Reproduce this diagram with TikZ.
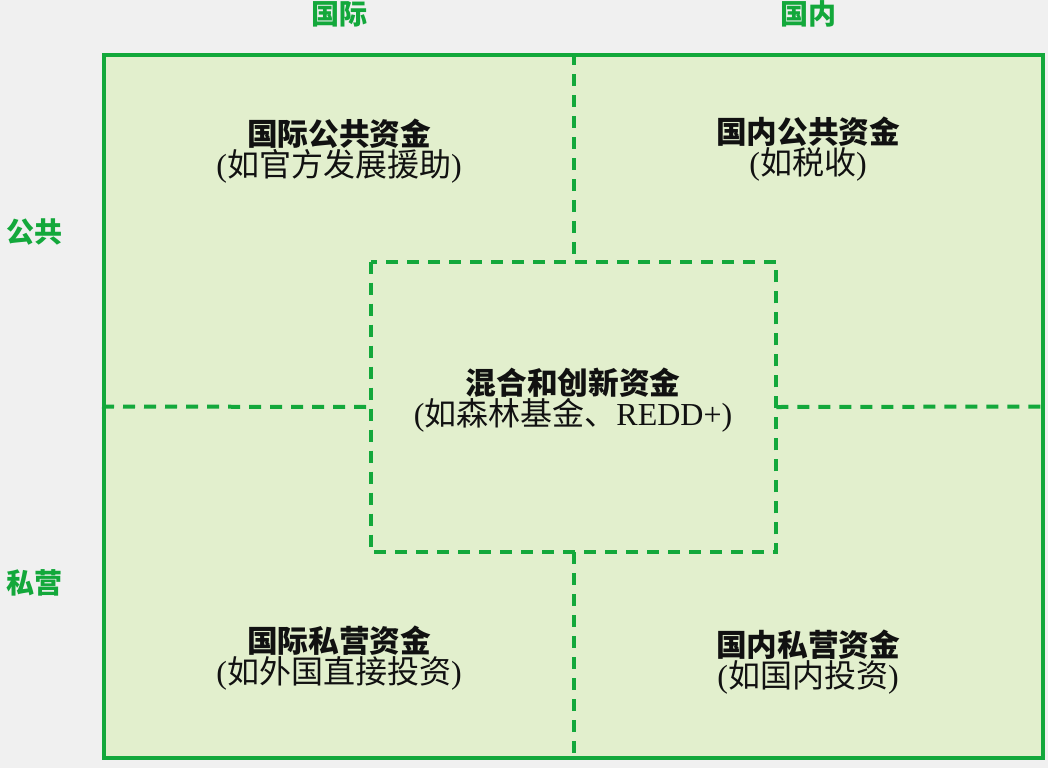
\documentclass[tikz,border=0pt]{standalone}
\usepackage{fontspec}
\newfontfamily\cjk{Noto Sans CJK SC}
\newfontfamily\ser{Liberation Serif}
\definecolor{bg}{HTML}{F0F0F0}
\definecolor{gr}{HTML}{13A83B}
\definecolor{panel}{HTML}{E2EFCD}
\definecolor{ink}{HTML}{111111}
\begin{document}
\begin{tikzpicture}[x=0.75pt,y=-0.75pt,
  axislabel/.style={text=gr,font=\cjk\bfseries\fontsize{21}{24}\selectfont,inner sep=0pt,anchor=center},
  celltext/.style={text=ink,align=center,inner sep=0pt,anchor=center},
  dashline/.style={draw=gr,line width=3pt,dash pattern=on 9pt off 6.75pt}]
\fill[bg] (0,0) rectangle (1048,768);
\useasboundingbox (0,0) rectangle (1048,768);
\node[draw=gr,fill=panel,line width=3pt,minimum width=939*0.75pt,minimum height=703*0.75pt,inner sep=0pt] (outer) at (573.5,406.5) {};
\node[minimum width=405*0.75pt,minimum height=290*0.75pt,inner sep=0pt] (inner) at (573.5,407) {};
\draw[dashline] (outer.north) -- (inner.north);
\draw[dashline] (inner.south) -- (outer.south);
\draw[dashline] (outer.west) -- (inner.west);
\draw[dashline] (inner.east) -- (outer.east);
\draw[dashline] (inner.north west) rectangle (inner.south east);
\node[axislabel] (intl) at (339,14) {国际};
\node[axislabel] (dom) at (808,14) {国内};
\node[axislabel] (pub) at (35,232) {公共};
\node[axislabel] (priv) at (35,583) {私营};
\newcommand{\hd}[1]{{\cjk\bfseries\fontsize{23}{25}\selectfont #1}}
\newcommand{\sub}[1]{{\fontsize{24}{25}\selectfont{\ser(}\cjk #1{\ser)}}}
\node[celltext] (tl) at (339,151) {\hd{国际公共资金}\\[0pt]\sub{如官方发展援助}};
\node[celltext] (tr) at (808,149) {\hd{国内公共资金}\\[0pt]\sub{如税收}};
\node[celltext] (ct) at (573,400) {\hd{混合和创新资金}\\[0pt]{\fontsize{24}{25}\selectfont{\ser(}\cjk 如森林基金、{\ser REDD+)}}};
\node[celltext] (bl) at (339,658) {\hd{国际私营资金}\\[0pt]\sub{如外国直接投资}};
\node[celltext] (br) at (808,662) {\hd{国内私营资金}\\[0pt]\sub{如国内投资}};
\end{tikzpicture}
\end{document}
